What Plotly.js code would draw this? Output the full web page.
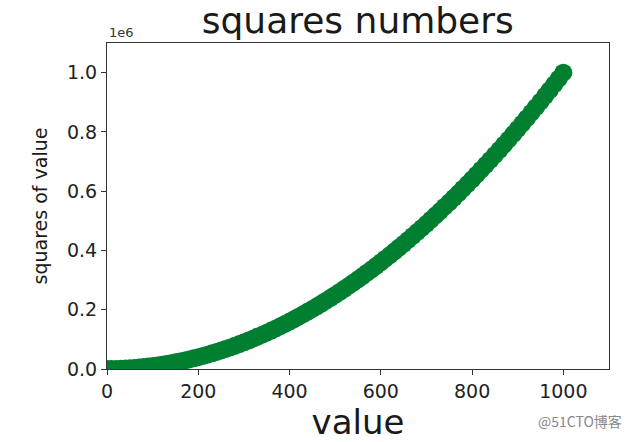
<!DOCTYPE html>
<html>
<head>
<meta charset="utf-8">
<script src="https://cdn.plot.ly/plotly-3.0.1.min.js"></script>
<style>
  html, body { margin: 0; padding: 0; background: #fff; }
  #chart { width: 631px; height: 442px; }
</style>
</head>
<body>
<div id="chart"></div>
<script>
// values, every 10 along x
const values = [
  0, 10, 20, 30, 40, 50, 60, 70, 80, 90,
  100, 110, 120, 130, 140, 150, 160, 170, 180, 190,
  200, 210, 220, 230, 240, 250, 260, 270, 280, 290,
  300, 310, 320, 330, 340, 350, 360, 370, 380, 390,
  400, 410, 420, 430, 440, 450, 460, 470, 480, 490,
  500, 510, 520, 530, 540, 550, 560, 570, 580, 590,
  600, 610, 620, 630, 640, 650, 660, 670, 680, 690,
  700, 710, 720, 730, 740, 750, 760, 770, 780, 790,
  800, 810, 820, 830, 840, 850, 860, 870, 880, 890,
  900, 910, 920, 930, 940, 950, 960, 970, 980, 990,
  1000
];
const squares = [
  0, 100, 400, 900, 1600, 2500, 3600, 4900, 6400, 8100,
  10000, 12100, 14400, 16900, 19600, 22500, 25600, 28900, 32400, 36100,
  40000, 44100, 48400, 52900, 57600, 62500, 67600, 72900, 78400, 84100,
  90000, 96100, 102400, 108900, 115600, 122500, 129600, 136900, 144400, 152100,
  160000, 168100, 176400, 184900, 193600, 202500, 211600, 220900, 230400, 240100,
  250000, 260100, 270400, 280900, 291600, 302500, 313600, 324900, 336400, 348100,
  360000, 372100, 384400, 396900, 409600, 422500, 435600, 448900, 462400, 476100,
  490000, 504100, 518400, 532900, 547600, 562500, 577600, 592900, 608400, 624100,
  640000, 656100, 672400, 688900, 705600, 722500, 739600, 756900, 774400, 792100,
  810000, 828100, 846400, 864900, 883600, 902500, 921600, 940900, 960400, 980100,
  1000000
];

const xTicks = [0, 200, 400, 600, 800, 1000];
const yTicks = [0, 200000, 400000, 600000, 800000, 1000000];
const yTickText = ["0.0", "0.2", "0.4", "0.6", "0.8", "1.0"];

const font = "DejaVu Sans, sans-serif";

Plotly.newPlot("chart", [
  {
    x: values,
    y: squares,
    mode: "markers",
    type: "scatter",
    marker: { color: "#007f31", size: 18, line: { width: 0 } },
    cliponaxis: true,
    hoverinfo: "none"
  }
], {
  width: 631,
  height: 442,
  margin: { l: 107, r: 22, t: 43, b: 73, pad: 0 },
  paper_bgcolor: "#ffffff",
  plot_bgcolor: "#ffffff",
  showlegend: false,
  font: { family: font, color: "#1a1a1a" },
  title: {
    text: "squares numbers",
    font: { family: font, size: 36, color: "#1a1a1a" },
    x: 0.567, xanchor: "center",
    y: 0.955, yanchor: "middle"
  },
  xaxis: {
    range: [0, 1100],
    tickvals: xTicks,
    ticktext: xTicks.map(String),
    ticks: "outside", ticklen: 5, tickwidth: 1, tickcolor: "#333",
    tickfont: { family: font, size: 19, color: "#222" },
    showgrid: false, zeroline: false,
    showline: true, linecolor: "#333", linewidth: 1, mirror: true,
    title: { text: "value", font: { family: font, size: 34, color: "#1a1a1a" }, standoff: 4 }
  },
  yaxis: {
    range: [0, 1100000],
    tickvals: yTicks,
    ticktext: yTickText,
    ticks: "outside", ticklen: 5, tickwidth: 1, tickcolor: "#333",
    tickfont: { family: font, size: 19, color: "#222" },
    showgrid: false, zeroline: false,
    showline: true, linecolor: "#333", linewidth: 1, mirror: true,
    title: { text: "squares of value", font: { family: font, size: 19, color: "#1a1a1a" }, standoff: 14 }
  },
  annotations: [
    {
      text: "1e6", xref: "paper", yref: "paper", x: 0, y: 1,
      xanchor: "left", yanchor: "bottom", showarrow: false, yshift: 1,
      font: { family: font, size: 13, color: "#333" }
    },
    {
      text: "@51CTO博客", xref: "paper", yref: "paper", x: 1.03, y: -0.16,
      xanchor: "right", yanchor: "middle", showarrow: false,
      font: { family: "Noto Sans CJK SC, sans-serif", size: 14, color: "#888" }
    }
  ]
}, { displayModeBar: false, staticPlot: true });
</script>
</body>
</html>
